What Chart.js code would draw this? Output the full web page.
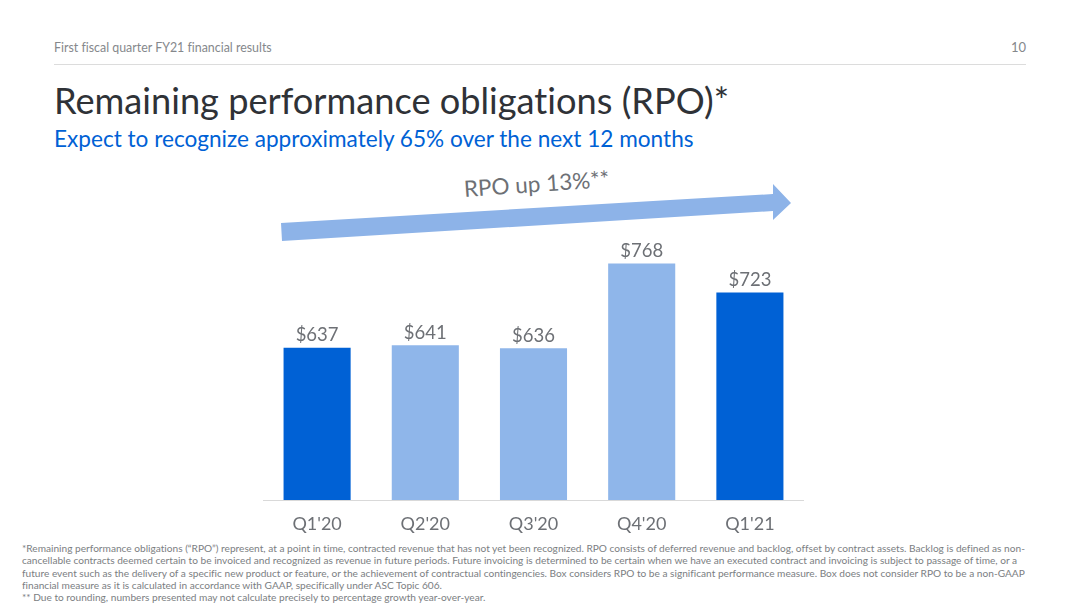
<!DOCTYPE html>
<html>
<head>
<meta charset="utf-8">
<script src="https://cdn.jsdelivr.net/npm/chart.js@4"></script>
<style>
  html, body { margin: 0; background: #fff; }
  body { width: 1080px; height: 608px; position: relative; overflow: hidden; font-family: Lato, sans-serif; font-variant-ligatures: none; }
  .t { position: absolute; white-space: nowrap; }
  #head { left: 54px; top: 40px; font-size: 12.4px; line-height: 15px; color: #85888c; }
  #page { right: 54px; top: 40px; font-size: 13px; line-height: 15px; color: #85888c; }
  #rule { position: absolute; left: 54px; top: 64px; width: 972px; height: 1px; background: #dcdcdc; }
  #title { left: 54px; top: 78px; font-size: 36.2px; line-height: 44px; color: #2f3237; }
  #sub { left: 54px; top: 124.5px; font-size: 22.6px; line-height: 28px; color: #0061d5; }
  #up { left: 464px; top: 175px; font-size: 22.5px; line-height: 28px; color: #6d7075; transform: rotate(-4deg); transform-origin: left center; }
  #arrow { position: absolute; left: 0; top: 0; }
  #wrap { position: absolute; left: 263px; top: 243px; width: 541px; height: 297px; }
  #notes { position: absolute; left: 22px; top: 542px; font-size: 10.15px; line-height: 12.3px; color: #7b7e82; white-space: pre; }
</style>
</head>
<body>
<div class="t" id="head">First fiscal quarter FY21 financial results</div>
<div class="t" id="page">10</div>
<div id="rule"></div>
<div class="t" id="title">Remaining performance obligations (RPO)*</div>
<div class="t" id="sub">Expect to recognize approximately 65% over the next 12 months</div>
<svg id="arrow" width="1080" height="608"><polygon points="281,223 773,194 773,184 791,203 773,220 773,211 282,241" fill="#8db3e8"/></svg>
<div class="t" id="up">RPO up 13%**</div>
<div id="wrap"><canvas id="chart"></canvas></div>
<div id="notes"></div>
<script>
const quarters = ["Q1'20", "Q2'20", "Q3'20", "Q4'20", "Q1'21"];
const rpo = [637, 641, 636, 768, 723];
const barColors = ['#0061d5', '#8fb6ea', '#8fb6ea', '#8fb6ea', '#0061d5'];
const footnotes = [
  '*Remaining performance obligations (“RPO”) represent, at a point in time, contracted revenue that has not yet been recognized. RPO consists of deferred revenue and backlog, offset by contract assets. Backlog is defined as non-',
  'cancellable contracts deemed certain to be invoiced and recognized as revenue in future periods. Future invoicing is determined to be certain when we have an executed contract and invoicing is subject to passage of time, or a',
  'future event such as the delivery of a specific new product or feature, or the achievement of contractual contingencies. Box considers RPO to be a significant performance measure. Box does not consider RPO to be a non-GAAP',
  'financial measure as it is calculated in accordance with GAAP, specifically under ASC Topic 606.',
  '** Due to rounding, numbers presented may not calculate precisely to percentage growth year-over-year.'
];

document.getElementById('notes').textContent = footnotes.join('\n');

// dollar labels above each bar
const barLabels = {
  id: 'barLabels',
  afterDatasetsDraw(chart) {
    const ctx = chart.ctx;
    ctx.save();
    ctx.font = '18.5px Lato';
    ctx.fillStyle = '#6d7075';
    ctx.textAlign = 'center';
    ctx.textBaseline = 'bottom';
    chart.getDatasetMeta(0).data.forEach((bar, i) => {
      ctx.fillText('$' + rpo[i], bar.x, bar.y - 3);
    });
    ctx.restore();
  }
};

new Chart(document.getElementById('chart'), {
  type: 'bar',
  data: {
    labels: quarters,
    datasets: [{
      data: rpo,
      backgroundColor: barColors,
      categoryPercentage: 1,
      barPercentage: 0.62,
    }]
  },
  options: {
    responsive: true,
    maintainAspectRatio: false,
    animation: false,
    layout: { padding: 0 },
    plugins: {
      legend: { display: false },
      tooltip: { enabled: false }
    },
    scales: {
      x: {
        grid: { display: false, drawTicks: false },
        border: { color: '#d9d9d9', width: 1 },
        ticks: { color: '#6d7075', font: { family: 'Lato', size: 18 }, padding: 13, maxRotation: 0 },
        afterFit: axis => { axis.height = 40; }
      },
      y: {
        display: false,
        min: 400,
        max: 800
      }
    }
  },
  plugins: [barLabels]
});
</script>
</body>
</html>
